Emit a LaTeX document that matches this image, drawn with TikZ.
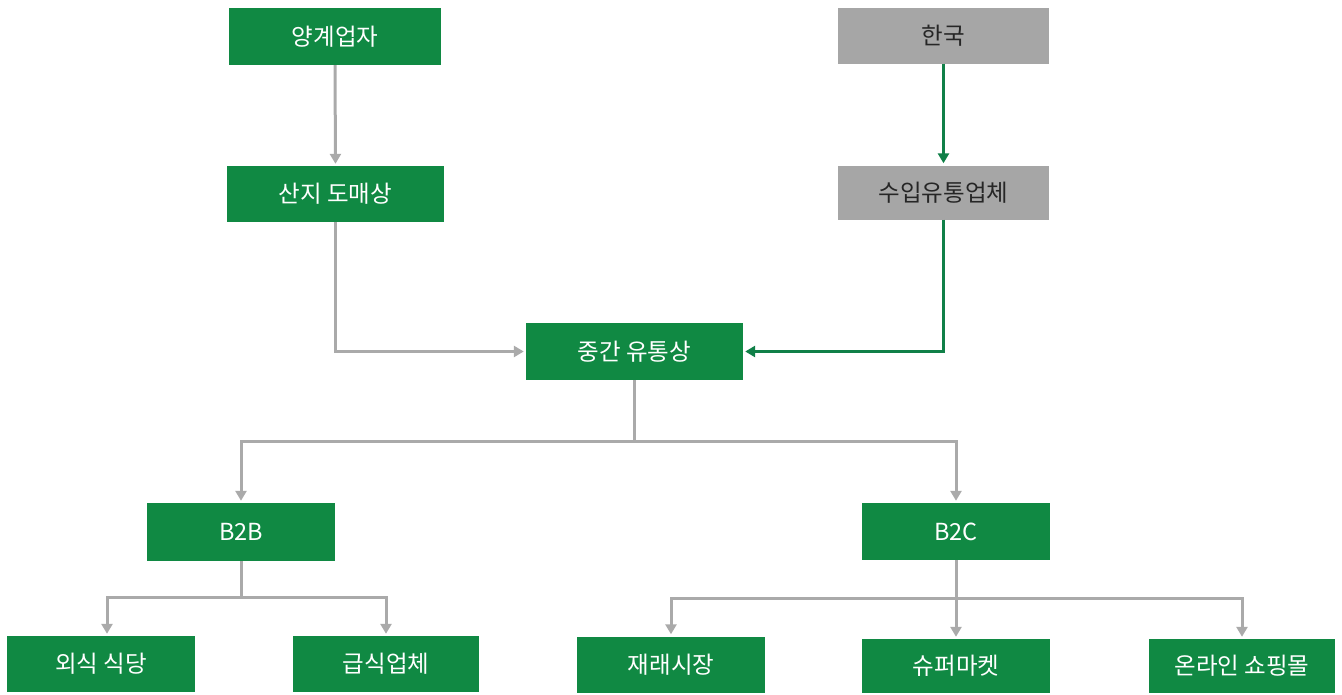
\documentclass[tikz,border=0pt]{standalone}
\usepackage{fontspec}
\setmainfont{Noto Sans CJK KR}
\usetikzlibrary{arrows.meta}
\definecolor{boxgreen}{RGB}{16,137,67}
\definecolor{boxgray}{RGB}{166,166,166}
\definecolor{linegray}{RGB}{170,170,170}
\definecolor{linegreen}{RGB}{16,128,72}
\definecolor{darktext}{RGB}{38,38,38}
\tikzset{
  gbox/.style={fill=boxgreen, text=white, inner sep=0pt, font=\fontsize{23.5}{24}\selectfont},
  graybox/.style={fill=boxgray, text=darktext, inner sep=0pt, font=\fontsize{23.5}{24}\selectfont},
  conn/.style={draw=linegray, line width=3pt, -{Triangle[length=10pt,width=11pt]}, shorten >=2pt},
  gconn/.style={draw=linegreen, line width=3pt, -{Triangle[length=10pt,width=11pt]}, shorten >=2pt},
}
\begin{document}
\begin{tikzpicture}[x=1pt,y=1pt]
\useasboundingbox (0,0) rectangle (1342,-694);
% top row
\node[gbox, minimum width=212pt, minimum height=57pt] (yang) at (335,-36.5) {양계업자};
\node[graybox, minimum width=211pt, minimum height=56pt] (hanguk) at (943.5,-35.5) {한국};
\node[gbox, minimum width=217pt, minimum height=56pt] (sanji) at (335.5,-194) {산지 도매상};
\node[graybox, minimum width=211pt, minimum height=54pt] (suip) at (943.5,-192.5) {수입유통업체};
\node[gbox, minimum width=217pt, minimum height=57pt] (jung) at (634.5,-351.5) {중간 유통상};
\node[gbox, minimum width=188pt, minimum height=58pt] (b2b) at (241,-532) {B2B};
\node[gbox, minimum width=188pt, minimum height=57pt] (b2c) at (956,-531.5) {B2C};
\node[gbox, minimum width=188pt, minimum height=56pt] (oesik) at (101,-664) {외식 식당};
\node[gbox, minimum width=186pt, minimum height=56pt] (geupsik) at (386,-664) {급식업체};
\node[gbox, minimum width=188pt, minimum height=56pt] (jaerae) at (671,-664.5) {재래시장};
\node[gbox, minimum width=188pt, minimum height=54pt] (super) at (956,-666) {슈퍼마켓};
\node[gbox, minimum width=186pt, minimum height=54pt] (online) at (1242,-666) {온라인 쇼핑몰};
% connectors
\draw[conn] (yang.south) -- (sanji.north);
\draw[gconn] (hanguk.south) -- (suip.north);
\draw[conn] (sanji.south) |- (jung.west);
\draw[gconn] (suip.south) |- (jung.east);
\draw[conn] (jung.south) -- ++(0,-61) -| (b2b.north);
\draw[conn] (jung.south) -- ++(0,-61) -| (b2c.north);
\draw[conn] (b2b.south) -- ++(0,-36) -| ([xshift=6pt]oesik.north);
\draw[conn] (b2b.south) -- ++(0,-36) -| (geupsik.north);
\draw[conn] (b2c.south) -- ++(0,-38) -| (jaerae.north);
\draw[conn] (b2c.south) -- (super.north);
\draw[conn] (b2c.south) -- ++(0,-38) -| (online.north);
\end{tikzpicture}
\end{document}
